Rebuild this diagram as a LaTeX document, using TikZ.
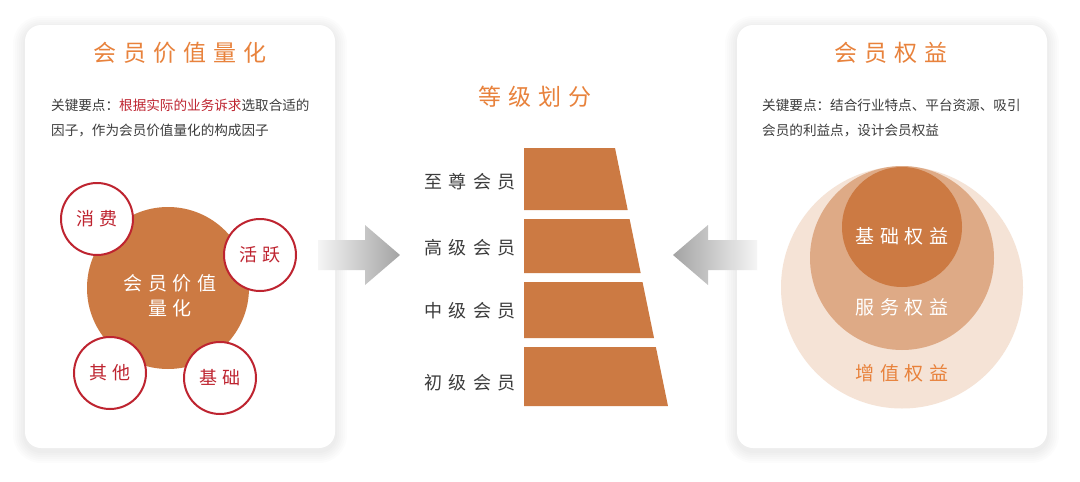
\documentclass[tikz,border=0pt]{standalone}
\usepackage{fontspec}
\setmainfont{Noto Sans CJK SC}
\newfontfamily\cjkwide[LetterSpace=30]{Noto Sans CJK SC}
\newfontfamily\cjkwider[LetterSpace=36]{Noto Sans CJK SC}
\usetikzlibrary{positioning}
\definecolor{TitleOrange}{RGB}{232,130,60}
\definecolor{BrickOrange}{RGB}{204,122,67}
\definecolor{MidPeach}{RGB}{222,170,134}
\definecolor{SoftPeach}{RGB}{245,227,214}
\definecolor{KeyRed}{RGB}{190,36,48}
\definecolor{BodyGray}{RGB}{60,60,60}
\tikzset{
  titletext/.style={text=TitleOrange,inner sep=0,font=\cjkwide\fontsize{23}{26}\selectfont},
  bodytext/.style={text=BodyGray,align=left,inner sep=0,anchor=north west,font=\fontsize{13.6}{25}\selectfont},
  corecircle/.style={circle,fill=BrickOrange,minimum size=162,inner sep=0},
  coretext/.style={text=white,align=center,inner sep=0,font=\cjkwide\fontsize{19}{25}\selectfont},
  factor/.style={circle,draw=KeyRed,line width=2,fill=white,minimum size=72,inner sep=0,text=KeyRed,font=\cjkwide\fontsize{18}{22}\selectfont},
  levelname/.style={text=BodyGray,anchor=east,inner sep=0,font=\cjkwider\fontsize{18}{20}\selectfont},
  benefit/.style={inner sep=0,font=\cjkwide\fontsize{19}{22}\selectfont}
}
\begin{document}
\begin{tikzpicture}[x=1pt,y=-1pt]
\fill[white] (0,0) rectangle (1080,482);
\useasboundingbox (0,0) rectangle (1080,482);
% cards with soft shadow
\foreach \x in {25,737}{
  \foreach \s in {12,10,...,2}
    \fill[black,opacity=0.01,rounded corners=16+\s] (\x-\s,25-\s+3) rectangle (\x+310+\s,448+\s+3);
  \fill[white,rounded corners=16] (\x,25) rectangle (\x+310,448);
}
% left card
\node[titletext] (valuetitle) at (180,53) {会员价值量化};
\node[bodytext] (valuenote) at (51,99) {关键要点：\textcolor{KeyRed}{根据实际的业务诉求}选取合适的\\因子，作为会员价值量化的构成因子};
\node[corecircle] (core) at (168,288) {};
\node[coretext] (coretitle) at (170,296) {会员价值\\量化};
\node[factor] (spend) at (97,219) {消费};
\node[factor] (active) at (260,255) {活跃};
\node[factor] (other) at (110,373) {其他};
\node[factor] (basic) at (220,378) {基础};
% arrows
\shade[left color=gray!8,right color=gray!72] (318,240) -- (365,240) -- (365,225) -- (400,255) -- (365,285) -- (365,270) -- (318,270) -- cycle;
\shade[left color=gray!72,right color=gray!8] (673,255) -- (708,225) -- (708,240) -- (757,240) -- (757,270) -- (708,270) -- (708,285) -- cycle;
% levels
\node[titletext] (leveltitle) at (535,97) {等级划分};
\foreach \t/\b/\ly/\name in {148/210/182/至尊会员,219/273/248/高级会员,282/338/311/中级会员,347/406/383/初级会员}{
  \pgfmathsetmacro{\rt}{615+(\t-148)*0.2054}
  \pgfmathsetmacro{\rb}{615+(\b-148)*0.2054}
  \fill[BrickOrange] (524,\t) -- (\rt,\t) -- (\rb,\b) -- (524,\b) -- cycle;
  \node[levelname] at (516,\ly) {\name};
}
% right card
\node[titletext] (benefittitle) at (891,53) {会员权益};
\node[bodytext] (benefitnote) at (762,99) {关键要点：结合行业特点、平台资源、吸引\\会员的利益点，设计会员权益};
\fill[SoftPeach] (902,287.5) circle (121);
\fill[MidPeach] (902,258) circle (92);
\fill[BrickOrange] (902,227) circle (60);
\node[benefit,text=white] (basebenefit) at (902,236) {基础权益};
\node[benefit,text=white] (servicebenefit) at (902,307) {服务权益};
\node[benefit,text=TitleOrange] (extrabenefit) at (902,373) {增值权益};
\end{tikzpicture}
\end{document}
